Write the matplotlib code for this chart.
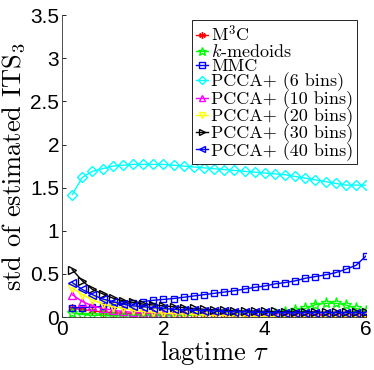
#!/usr/bin/env python3
"""
Std of estimated ITS_3 vs lagtime for several clustering methods
"""

import matplotlib
matplotlib.use('Agg')
import matplotlib.pyplot as plt
import numpy as np

plt.rcParams['mathtext.fontset'] = 'cm'
plt.rcParams['axes.unicode_minus'] = False

# lagtimes
lagtime = [0.2, 0.4, 0.6, 0.8, 1.0, 1.2, 1.4, 1.6, 1.8, 2.0,
           2.2, 2.4, 2.6, 2.8, 3.0, 3.2, 3.4, 3.6, 3.8, 4.0,
           4.2, 4.4, 4.6, 4.8, 5.0, 5.2, 5.4, 5.6, 5.8, 6.0]

m3c = [0.10, 0.09, 0.07, 0.06, 0.05, 0.045, 0.04, 0.04, 0.035, 0.035,
       0.035, 0.035, 0.03, 0.03, 0.03, 0.03, 0.03, 0.03, 0.03, 0.03,
       0.03, 0.03, 0.03, 0.03, 0.03, 0.03, 0.03, 0.03, 0.03, 0.03]
kmedoids = [0.05, 0.03, 0.02, 0.02, 0.015, 0.015, 0.015, 0.015, 0.015, 0.015,
            0.015, 0.02, 0.02, 0.02, 0.02, 0.02, 0.025, 0.025, 0.03, 0.03,
            0.04, 0.06, 0.08, 0.10, 0.145, 0.16, 0.16, 0.14, 0.10, 0.065]
mmc = [0.11, 0.11, 0.115, 0.125, 0.14, 0.155, 0.165, 0.18, 0.195, 0.205,
       0.215, 0.23, 0.245, 0.26, 0.275, 0.29, 0.305, 0.325, 0.345, 0.36,
       0.385, 0.40, 0.42, 0.45, 0.47, 0.49, 0.515, 0.555, 0.60, 0.71]
pcca_6 = [1.42, 1.62, 1.69, 1.72, 1.75, 1.76, 1.77, 1.77, 1.77, 1.77,
          1.76, 1.75, 1.74, 1.73, 1.72, 1.71, 1.70, 1.69, 1.68, 1.67,
          1.66, 1.65, 1.63, 1.61, 1.59, 1.57, 1.55, 1.53, 1.53, 1.53]
pcca_10 = [0.26, 0.18, 0.13, 0.10, 0.08, 0.065, 0.055, 0.05, 0.045, 0.04,
           0.035, 0.035, 0.03, 0.03, 0.03, 0.025, 0.025, 0.025, 0.025, 0.02,
           0.02, 0.02, 0.02, 0.02, 0.02, 0.02, 0.02, 0.02, 0.02, 0.02]
pcca_20 = [0.34, 0.26, 0.20, 0.15, 0.12, 0.10, 0.08, 0.065, 0.055, 0.045,
           0.04, 0.035, 0.03, 0.025, 0.02, 0.02, 0.015, 0.015, 0.01, 0.01,
           0.01, 0.01, 0.01, 0.005, 0.005, 0.005, 0.005, 0.005, 0.005, 0.005]
pcca_30 = [0.55, 0.42, 0.32, 0.27, 0.22, 0.19, 0.17, 0.15, 0.14, 0.13,
           0.12, 0.11, 0.10, 0.09, 0.085, 0.08, 0.075, 0.07, 0.07, 0.065,
           0.065, 0.06, 0.06, 0.06, 0.06, 0.055, 0.055, 0.055, 0.055, 0.055]
pcca_40 = [0.40, 0.32, 0.26, 0.21, 0.18, 0.15, 0.13, 0.12, 0.11, 0.10,
           0.09, 0.085, 0.08, 0.075, 0.07, 0.065, 0.06, 0.06, 0.055, 0.055,
           0.05, 0.05, 0.05, 0.05, 0.05, 0.05, 0.05, 0.05, 0.05, 0.05]

labels = ['M$^3$C', '$k$-medoids', 'MMC', 'PCCA+ (6 bins)', 'PCCA+ (10 bins)',
          'PCCA+ (20 bins)', 'PCCA+ (30 bins)', 'PCCA+ (40 bins)']
series = [m3c, kmedoids, mmc, pcca_6, pcca_10, pcca_20, pcca_30, pcca_40]
colors = ['#ff0000', '#00ff00', '#0000ff', '#00ffff', '#ff00ff', '#ffff00', 'k', '#0000ff']
markers = [(6, 2, 0), '*', 's', 'D', '^', 'v', '>', '<']
msizes = [6, 8, 5, 5.5, 6, 6, 6, 6]

fig = plt.figure(figsize=(3.74, 3.70), dpi=100)
ax = fig.add_axes([0.166, 0.143, 0.813, 0.816])

for vals, lab, c, m, ms in zip(series, labels, colors, markers, msizes):
    ax.plot(lagtime, vals, color=c, marker=m, markersize=ms, markerfacecolor='none',
            markeredgecolor=c, markeredgewidth=1.0, linewidth=1.0, label=lab)

ax.set_xlim(0, 6)
ax.set_ylim(0, 3.5)
ax.set_xticks([0, 2, 4, 6])
ax.set_yticks([0, 0.5, 1, 1.5, 2, 2.5, 3, 3.5])
ax.set_yticklabels(['0', '0.5', '1', '1.5', '2', '2.5', '3', '3.5'])
ax.tick_params(direction='in', length=3, width=0.6, labelsize=15, pad=2)
for lbl in ax.get_xticklabels() + ax.get_yticklabels():
    lbl.set_family('Liberation Sans')

ax.spines['top'].set_visible(False)
ax.spines['right'].set_visible(False)
ax.spines['left'].set_linewidth(0.6)
ax.spines['bottom'].set_linewidth(0.6)
ax.spines['left'].set_color('#333333')
ax.spines['bottom'].set_color('#333333')

ax.set_xlabel(r'lagtime $\tau$', fontsize=19, family='cmr10', labelpad=0)
ax.set_ylabel(r'std of estimated ITS$_3$', fontsize=19, family='cmr10', labelpad=2)

leg = ax.legend(loc='upper right', bbox_to_anchor=(0.970, 0.983), borderaxespad=0,
                prop={'family': 'cmr10', 'size': 13}, handlelength=0.7,
                handletextpad=0.15, labelspacing=-0.08, borderpad=0.2,
                fancybox=False, framealpha=1, edgecolor='black', markerscale=0.8)
leg.get_frame().set_linewidth(0.6)

plt.savefig('out.png', dpi=100)
